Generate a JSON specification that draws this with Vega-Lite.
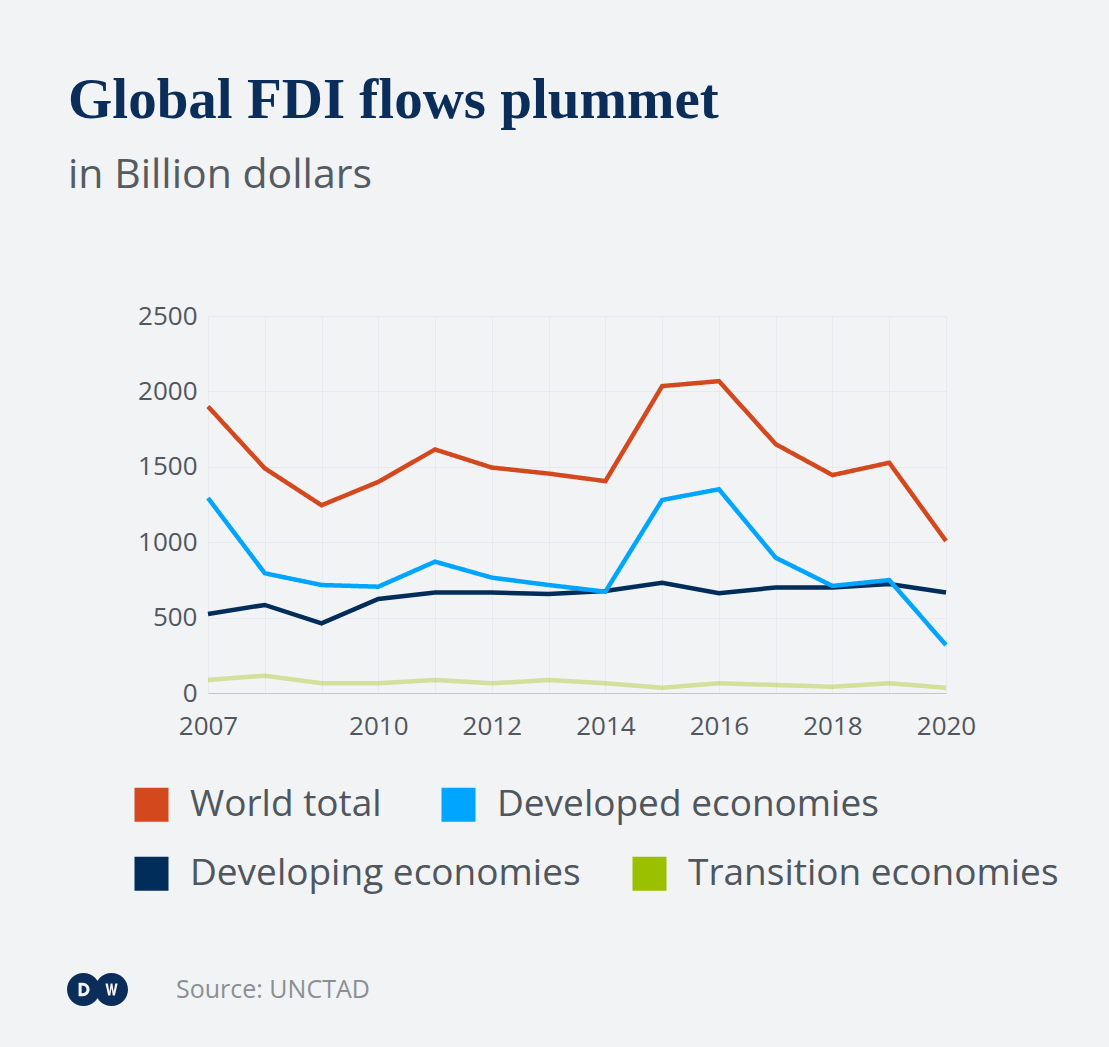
{
  "$schema": "https://vega.github.io/schema/vega-lite/v6.json",
  "width": 738,
  "height": 377,
  "autosize": {"type": "none"},
  "padding": {"left": 208, "top": 316, "right": 163, "bottom": 354},
  "background": "#f2f3f5",
  "title": {
    "text": "Global FDI flows plummet",
    "subtitle": "in Billion dollars",
    "anchor": "start",
    "frame": "group",
    "dx": -140,
    "offset": 106,
    "font": "Liberation Serif",
    "fontSize": 57,
    "fontWeight": "bold",
    "color": "#0b2d5a",
    "subtitleFont": "Open Sans",
    "subtitleFontSize": 41,
    "subtitleColor": "#555b62",
    "subtitlePadding": 26
  },
  "config": {
    "view": {"stroke": null},
    "legend": {
      "orient": "none",
      "direction": "horizontal",
      "labelFont": "Open Sans",
      "labelFontSize": 37,
      "labelColor": "#4f565d",
      "labelOffset": 20,
      "labelLimit": 600,
      "symbolType": "square",
      "symbolSize": 1156,
      "symbolStrokeWidth": 0,
      "padding": 0
    }
  },
  "data": {
    "values": [
      {"year": 2007, "series": "World total", "value": 1900},
      {"year": 2008, "series": "World total", "value": 1490},
      {"year": 2009, "series": "World total", "value": 1245},
      {"year": 2010, "series": "World total", "value": 1400},
      {"year": 2011, "series": "World total", "value": 1615},
      {"year": 2012, "series": "World total", "value": 1495},
      {"year": 2013, "series": "World total", "value": 1455},
      {"year": 2014, "series": "World total", "value": 1405},
      {"year": 2015, "series": "World total", "value": 2035},
      {"year": 2016, "series": "World total", "value": 2068},
      {"year": 2017, "series": "World total", "value": 1650},
      {"year": 2018, "series": "World total", "value": 1445},
      {"year": 2019, "series": "World total", "value": 1527},
      {"year": 2020, "series": "World total", "value": 1008},
      {"year": 2007, "series": "Developed economies", "value": 1293},
      {"year": 2008, "series": "Developed economies", "value": 794},
      {"year": 2009, "series": "Developed economies", "value": 716},
      {"year": 2010, "series": "Developed economies", "value": 705},
      {"year": 2011, "series": "Developed economies", "value": 871},
      {"year": 2012, "series": "Developed economies", "value": 765},
      {"year": 2013, "series": "Developed economies", "value": 716},
      {"year": 2014, "series": "Developed economies", "value": 672},
      {"year": 2015, "series": "Developed economies", "value": 1280},
      {"year": 2016, "series": "Developed economies", "value": 1351},
      {"year": 2017, "series": "Developed economies", "value": 897},
      {"year": 2018, "series": "Developed economies", "value": 710},
      {"year": 2019, "series": "Developed economies", "value": 749},
      {"year": 2020, "series": "Developed economies", "value": 318},
      {"year": 2007, "series": "Developing economies", "value": 524},
      {"year": 2008, "series": "Developing economies", "value": 584},
      {"year": 2009, "series": "Developing economies", "value": 462},
      {"year": 2010, "series": "Developing economies", "value": 623},
      {"year": 2011, "series": "Developing economies", "value": 667},
      {"year": 2012, "series": "Developing economies", "value": 667},
      {"year": 2013, "series": "Developing economies", "value": 656},
      {"year": 2014, "series": "Developing economies", "value": 676},
      {"year": 2015, "series": "Developing economies", "value": 731},
      {"year": 2016, "series": "Developing economies", "value": 661},
      {"year": 2017, "series": "Developing economies", "value": 700},
      {"year": 2018, "series": "Developing economies", "value": 700},
      {"year": 2019, "series": "Developing economies", "value": 723},
      {"year": 2020, "series": "Developing economies", "value": 667},
      {"year": 2007, "series": "Transition economies", "value": 86},
      {"year": 2008, "series": "Transition economies", "value": 115},
      {"year": 2009, "series": "Transition economies", "value": 64},
      {"year": 2010, "series": "Transition economies", "value": 64},
      {"year": 2011, "series": "Transition economies", "value": 86},
      {"year": 2012, "series": "Transition economies", "value": 64},
      {"year": 2013, "series": "Transition economies", "value": 86},
      {"year": 2014, "series": "Transition economies", "value": 65},
      {"year": 2015, "series": "Transition economies", "value": 35},
      {"year": 2016, "series": "Transition economies", "value": 64},
      {"year": 2017, "series": "Transition economies", "value": 53},
      {"year": 2018, "series": "Transition economies", "value": 42},
      {"year": 2019, "series": "Transition economies", "value": 64},
      {"year": 2020, "series": "Transition economies", "value": 35}
    ]
  },
  "encoding": {
    "x": {
      "field": "year",
      "type": "quantitative",
      "scale": {"domain": [2007, 2020], "nice": false, "zero": false},
      "axis": {
        "title": null,
        "values": [2007, 2008, 2009, 2010, 2011, 2012, 2013, 2014, 2015, 2016, 2017, 2018, 2019, 2020],
        "format": "d",
        "labelExpr": "(datum.value == 2007 || (datum.value >= 2010 && datum.value % 2 == 0)) ? datum.label : ''",
        "labelFlush": false,
        "labelOverlap": false,
        "ticks": false,
        "grid": true,
        "gridColor": "#e8eaed",
        "gridWidth": 1,
        "domain": true,
        "domainColor": "#c3c6ca",
        "domainWidth": 1,
        "labelFont": "Open Sans",
        "labelFontSize": 26,
        "labelColor": "#50575e",
        "labelPadding": 20
      }
    },
    "y": {
      "field": "value",
      "type": "quantitative",
      "scale": {"domain": [0, 2500], "nice": false},
      "axis": {
        "title": null,
        "values": [0, 500, 1000, 1500, 2000, 2500],
        "format": "d",
        "ticks": false,
        "domain": false,
        "grid": true,
        "gridColor": "#e8eaed",
        "gridWidth": 1,
        "labelFont": "Open Sans",
        "labelFontSize": 26,
        "labelColor": "#50575e",
        "labelPadding": 11
      }
    }
  },
  "layer": [
    {
      "transform": [{"filter": "datum.series === 'Developing economies' || datum.series === 'Transition economies'"}],
      "mark": {"type": "line", "strokeWidth": 4.5},
      "encoding": {
        "stroke": {
          "field": "series",
          "type": "nominal",
          "scale": {
            "domain": ["Developing economies", "Transition economies"],
            "range": ["#002d5a", "#9bc000"]
          },
          "legend": {
            "legendX": -75,
            "legendY": 539,
            "columnPadding": 50,
            "title": null,
            "encode": {
              "symbols": {
                "update": {
                  "fill": {"scale": "stroke", "field": "value"},
                  "opacity": {"value": 1},
                  "fillOpacity": {"value": 1},
                  "strokeOpacity": {"value": 0}
                }
              }
            }
          }
        },
        "strokeOpacity": {
          "condition": {"test": "datum.series === 'Transition economies'", "value": 0.37},
          "value": 1
        }
      }
    },
    {
      "transform": [{"filter": "datum.series === 'World total' || datum.series === 'Developed economies'"}],
      "mark": {"type": "line", "strokeWidth": 4.5},
      "encoding": {
        "color": {
          "field": "series",
          "type": "nominal",
          "scale": {
            "domain": ["World total", "Developed economies"],
            "range": ["#d4481e", "#00a5ff"]
          },
          "legend": {
            "legendX": -75,
            "legendY": 470,
            "columnPadding": 58,
            "title": null,
            "encode": {
              "symbols": {
                "update": {
                  "fill": {"scale": "color", "field": "value"},
                  "opacity": {"value": 1},
                  "fillOpacity": {"value": 1},
                  "strokeOpacity": {"value": 0}
                }
              }
            }
          }
        },
        "strokeDash": {
          "datum": "Source: UNCTAD",
          "type": "nominal",
          "scale": {"range": [[1, 0]]},
          "legend": {
            "legendX": -141,
            "legendY": 643,
            "title": null,
            "symbolType": "M-1,0A0.54,0.54 0 1,1 0.08,0A0.54,0.54 0 1,1 -1,0Z M-0.08,0A0.54,0.54 0 1,1 1,0A0.54,0.54 0 1,1 -0.08,0Z M-0.62,-0.22L-0.62,0.22L-0.48,0.22A0.22,0.22 0 0,0 -0.48,-0.22Z M-0.52,-0.12L-0.48,-0.12A0.12,0.12 0 0,1 -0.48,0.12L-0.52,0.12Z M0.26,-0.2L0.35,0.2L0.42,0.2L0.46,-0.06L0.5,0.2L0.57,0.2L0.66,-0.2L0.58,-0.2L0.53,0.08L0.49,-0.2L0.43,-0.2L0.39,0.08L0.34,-0.2Z",
            "symbolSize": 3721,
            "symbolStrokeWidth": 0,
            "labelOffset": 48,
            "labelFont": "Open Sans",
            "labelFontSize": 25,
            "labelColor": "#8a8f95",
            "encode": {
              "symbols": {
                "update": {
                  "fill": {"value": "#0b2d5a"},
                  "opacity": {"value": 1},
                  "fillOpacity": {"value": 1},
                  "strokeOpacity": {"value": 0}
                }
              }
            }
          }
        }
      }
    }
  ]
}
